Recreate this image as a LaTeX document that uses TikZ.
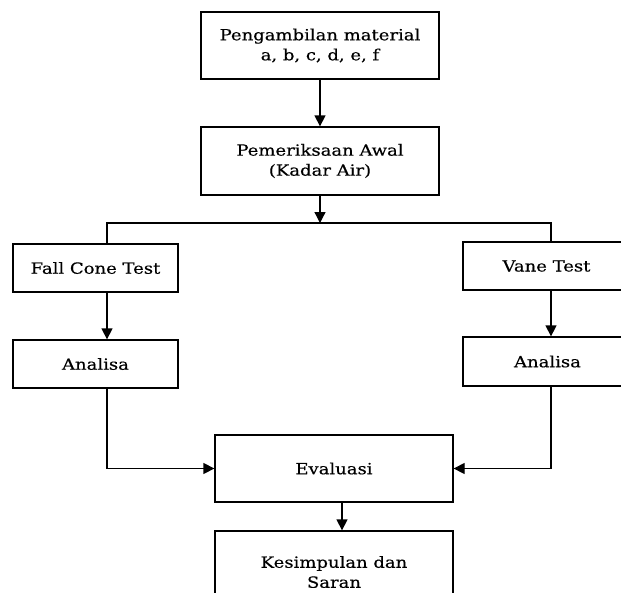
\documentclass[tikz,border=0pt]{standalone}
\usepackage{fontspec}
\setmainfont[FakeStretch=1.17,FakeBold=0.4]{DejaVu Serif}
\usetikzlibrary{arrows.meta}
\begin{document}
\begin{tikzpicture}[x=1pt,y=-1pt,
  box/.style={draw, line width=1.3pt, inner sep=0pt, align=center,
    font=\fontsize{15.4}{20}\selectfont},
  arr/.style={line width=1.3pt, -{Triangle[length=11pt,width=11pt]}},
  ln/.style={line width=1.3pt}]
\useasboundingbox[fill=white] (0,0) rectangle (621,592);
\node[box, minimum width=238pt, minimum height=67pt] (pm) at (320,45.5) {Pengambilan material\\a, b, c, d, e, f};
\node[box, minimum width=238pt, minimum height=68pt] (pa) at (320,161) {Pemeriksaan Awal\\(Kadar Air)};
\node[box, minimum width=165pt, minimum height=48pt] (fc) at (95.5,268) {Fall Cone Test};
\node[box, minimum width=167pt, minimum height=48pt] (vt) at (546.5,266) {Vane Test};
\node[box, minimum width=165pt, minimum height=48pt] (an1) at (95.5,364) {Analisa};
\node[box, minimum width=169pt, minimum height=49pt] (an2) at (547.5,361.5) {Analisa};
\node[box, minimum width=238pt, minimum height=67pt] (ev) at (334,468.5) {Evaluasi};
\node[box, minimum width=238pt, minimum height=82pt] (ks) at (334,572) {Kesimpulan dan\\Saran};
\coordinate (j) at (320,223);
\coordinate (jl) at (107,223);
\coordinate (jr) at (551,223);
\coordinate (k) at (342,0);
\draw[arr] (pm.south) -- (pa.north);
\draw[arr] (pa.south) -- (j);
\draw[ln] (fc.north -| jl) -- (jl) -- (jr) -- (vt.north -| jr);
\draw[arr] (fc.south -| jl) -- (an1.north -| jl);
\draw[arr] (vt.south -| jr) -- (an2.north -| jr);
\draw[arr] (an1.south -| jl) |- (ev.west);
\draw[arr] (an2.south -| jr) |- (ev.east);
\draw[arr] (ev.south -| k) -- (ks.north -| k);
\end{tikzpicture}
\end{document}
